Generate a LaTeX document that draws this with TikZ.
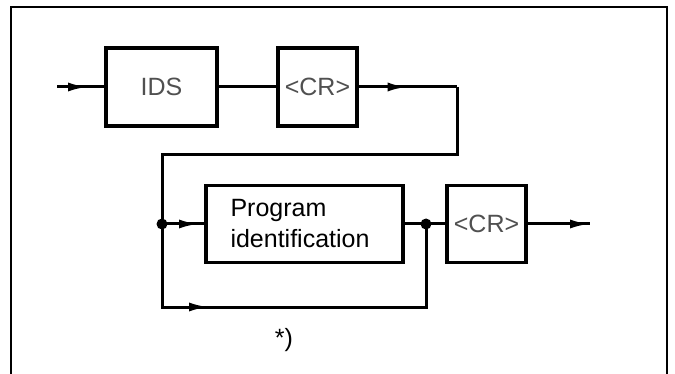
\documentclass[tikz,border=0pt]{standalone}
\usepackage{fontspec}
\setmainfont{Liberation Sans}
\usetikzlibrary{arrows.meta,decorations.markings}
\definecolor{labelgray}{RGB}{80,80,80}
\tikzset{
  box/.style={draw, line width=3.2pt, inner sep=0pt, font=\fontsize{25}{31}\selectfont},
  conn/.style={line width=3pt},
  arrowat/.style={postaction={decorate}, decoration={markings, mark=at position #1 with {\arrow{Latex[length=20pt,width=9pt]}}}},
  dot/.style={circle, fill, inner sep=0pt, minimum size=11pt},
  frame/.style={line width=1.8pt}
}
\begin{document}
\begin{tikzpicture}[x=1pt,y=-1pt]
\useasboundingbox (0,0) rectangle (675,374);
% frame
\draw[frame] (11,380) -- (11,7) -- (667,7) -- (667,380);
% boxes
\node[box, minimum width=111pt, minimum height=78pt, text=labelgray] (ids) at (161.5,87) {IDS};
\node[box, minimum width=79pt, minimum height=78pt, text=labelgray] (cr1) at (317.5,87) {<CR>};
\node[box, minimum width=197pt, minimum height=77pt, align=left, text width=160pt, xshift=0pt] (prog) at (304.5,224) {\hspace*{6pt}Program\\\hspace*{6pt}identification};
\node[box, minimum width=79pt, minimum height=77pt, text=labelgray] (cr2) at (486.5,224) {<CR>};
% coordinates
\coordinate (in) at (57,87);
\coordinate (c1) at (457,87);
\coordinate (c2) at (457,155);
\coordinate (c3) at (162,155);
\node[dot] (d1) at (162,224) {};
\node[dot] (d2) at (426,224) {};
\coordinate (b1) at (162,307);
\coordinate (b2) at (426,307);
\coordinate (out) at (590,224);
% connectors
\draw[conn, arrowat=31pt] (in) -- (ids.west);
\draw[conn] (ids.east) -- (cr1.west);
\draw[conn, arrowat=49pt] (cr1.east) -- (c1);
\draw[conn] (c1) -- (c2) -- (c3) -- (d1.center);
\draw[conn, arrowat=37pt] (d1.center) -- (prog.west);
\draw[conn] (prog.east) -- (d2.center);
\draw[conn] (d2.center) -- (cr2.west);
\draw[conn, arrowat=130pt] (d1.center) -- (b1) -- (b2) -- (d2.center);
\draw[conn, arrowat=1] (cr2.east) -- (out);
% footnote mark
\node[font=\fontsize{25}{30}\selectfont] (note) at (284,340) {*)};
\end{tikzpicture}
\end{document}
